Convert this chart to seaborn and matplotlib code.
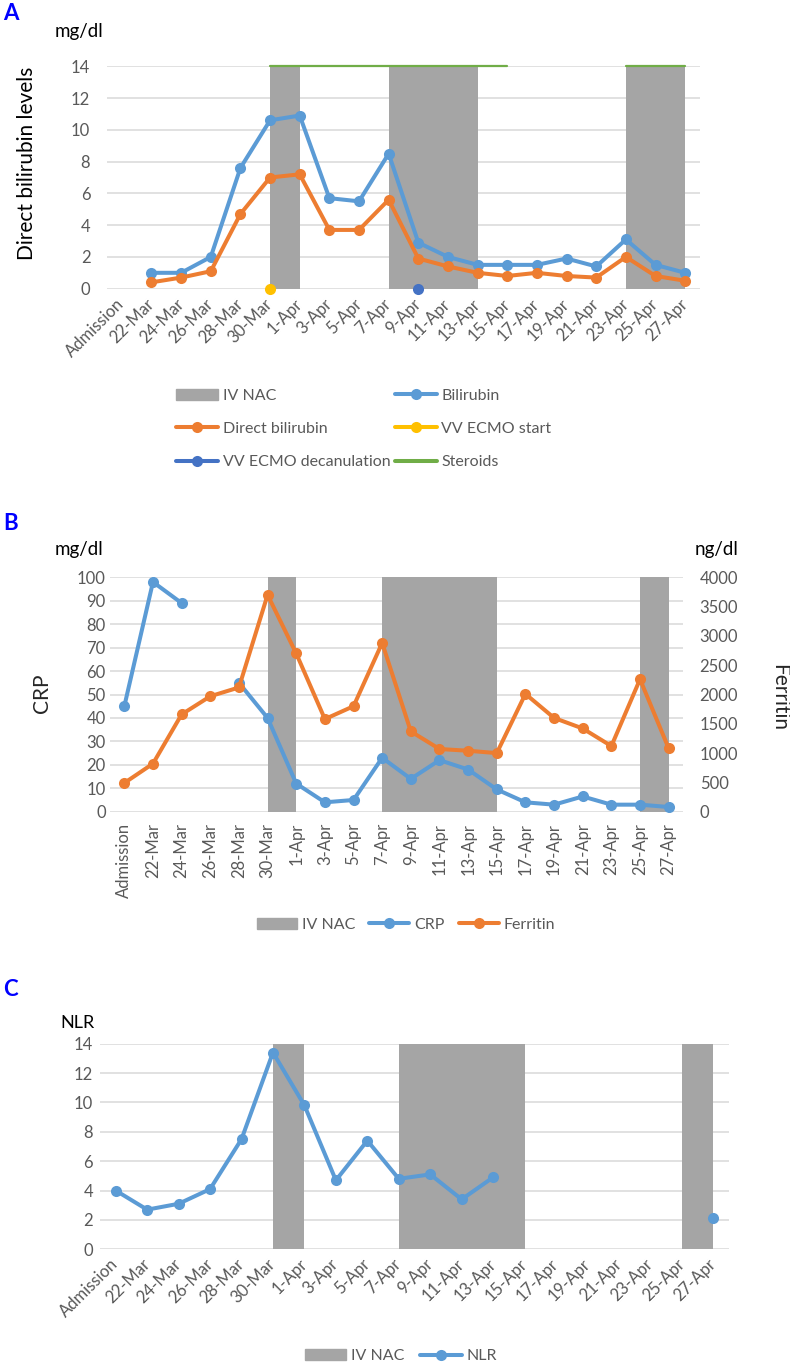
"""Bilirubin, CRP/ferritin and NLR time courses with IV NAC periods."""

import matplotlib
matplotlib.use("Agg")
import matplotlib.pyplot as plt
from matplotlib.lines import Line2D
from matplotlib.patches import Patch
import numpy as np
import pandas as pd
import seaborn as sns

nan = np.nan

dates = ["Admission", "22-Mar", "24-Mar", "26-Mar", "28-Mar", "30-Mar", "1-Apr",
         "3-Apr", "5-Apr", "7-Apr", "9-Apr", "11-Apr", "13-Apr", "15-Apr",
         "17-Apr", "19-Apr", "21-Apr", "23-Apr", "25-Apr", "27-Apr"]

# panel A (mg/dl)
bilirubin = [nan, 1.0, 1.0, 2.0, 7.6, 10.6, 10.9, 5.7, 5.5, 8.5, 2.9, 2.0, 1.5,
             1.5, 1.5, 1.9, 1.4, 3.1, 1.5, 1.0]
direct_bilirubin = [nan, 0.4, 0.7, 1.1, 4.7, 7.0, 7.2, 3.7, 3.7, 5.6, 1.9, 1.4,
                    1.0, 0.8, 1.0, 0.8, 0.7, 2.0, 0.8, 0.5]
steroids = [nan] * 5 + [14] * 9 + [nan] * 3 + [14] * 3
ecmo_start = {"30-Mar": 0}
ecmo_decannulation = {"9-Apr": 0}
nac_a = [("30-Mar", "1-Apr"), ("7-Apr", "13-Apr"), ("23-Apr", "27-Apr")]

# panel B
crp = [45, 98, 89, nan, 55, 40, 12, 4, 5, 23, 14, 22, 18, 9.5, 4, 3, 6.5, 3, 3, 2]
ferritin = [490, 820, 1660, 1970, 2120, 3700, 2700, 1580, 1800, 2880, 1370, 1070,
            1040, 1000, 2010, 1600, 1420, 1120, 2260, 1080]

# panel C
nlr = [4.0, 2.7, 3.1, 4.1, 7.5, 13.4, 9.8, 4.7, 7.4, 4.8, 5.1, 3.4, 4.9,
       nan, nan, nan, nan, nan, nan, 2.1]
nac_bc = [("30-Mar", "1-Apr"), ("7-Apr", "15-Apr"), ("25-Apr", "27-Apr")]

BLUE = "#5B9BD5"
ORANGE = "#ED7D31"
GRAY = "#A5A5A5"
YELLOW = "#FFC000"
DARKBLUE = "#4472C4"
GREEN = "#70AD47"
GRID = "#D9D9D9"
TICK = "#595959"
TICKSIZE = 12

sns.set_theme(style="white")
plt.rcParams["font.family"] = ["Lato", "DejaVu Sans"]

W, H = 790, 1364


def fx(px):
    return px / W


def fy(py):
    return 1 - py / H


def series(ax, values, color, lw=2.9, ms=8, marker="o", clip=True):
    df = pd.DataFrame({"x": np.arange(len(values)), "y": values})
    df["seg"] = df["y"].isna().cumsum()
    df = df.dropna()
    sns.lineplot(data=df, x="x", y="y", units="seg", estimator=None, color=color,
                 linewidth=lw, marker=marker, markersize=ms, markeredgewidth=0,
                 legend=False, ax=ax, clip_on=clip, zorder=3)


def style_axes(ax, ymax, ystep, rot, ypad, xpad):
    ax.set_xlim(-0.5, len(dates) - 0.5)
    ax.set_ylim(0, ymax)
    ax.set_yticks(np.arange(0, ymax + ystep / 2, ystep))
    ax.set_xticks(np.arange(len(dates)))
    if rot == 90:
        ax.set_xticklabels(dates, rotation=90, ha="center", va="top")
    else:
        ax.set_xticklabels(dates, rotation=45, ha="right", va="center",
                           rotation_mode="anchor")
    ax.tick_params(axis="both", length=0, labelsize=TICKSIZE, labelcolor=TICK)
    ax.tick_params(axis="y", pad=ypad)
    ax.tick_params(axis="x", pad=xpad)
    ax.yaxis.grid(True, color=GRID, linewidth=1.1)
    ax.xaxis.grid(False)
    ax.set_axisbelow(True)
    for s in ax.spines.values():
        s.set_visible(False)
    ax.set_xlabel("")
    ax.set_ylabel("")


def nac(ax, spans):
    for start, end in spans:
        ax.axvspan(dates.index(start), dates.index(end), color=GRAY, lw=0, zorder=1)


fig = plt.figure(figsize=(W / 100, H / 100), dpi=100)

# ---- A
ax = fig.add_axes([fx(107), fy(288.7), fx(593), 222.4 / H])
nac(ax, nac_a)
series(ax, bilirubin, BLUE)
series(ax, direct_bilirubin, ORANGE)
series(ax, steroids, GREEN, lw=1.6, marker=None, clip=False)
ax.plot([dates.index(d) for d in ecmo_start], list(ecmo_start.values()), "o",
        color=YELLOW, ms=8, mew=0, clip_on=False, zorder=4)
ax.plot([dates.index(d) for d in ecmo_decannulation], list(ecmo_decannulation.values()),
        "o", color=DARKBLUE, ms=8, mew=0, clip_on=False, zorder=4)
style_axes(ax, 14, 2, 45, 12, 9)

fig.text(fx(3), fy(13), "A", color="blue", fontsize=16, fontweight="bold", va="center")
fig.text(fx(55), fy(32), "mg/dl", fontsize=13.5, va="center", color="black")
fig.text(fx(27), fy(163), "Direct bilirubin levels", fontsize=15, rotation=90,
         ha="center", va="center", color="black")

line_kw = dict(linewidth=2.9, marker="o", markersize=8, markeredgewidth=0)
handles = [Patch(color=GRAY),
           Line2D([], [], color=ORANGE, **line_kw),
           Line2D([], [], color=DARKBLUE, **line_kw),
           Line2D([], [], color=BLUE, **line_kw),
           Line2D([], [], color=YELLOW, **line_kw),
           Line2D([], [], color=GREEN, linewidth=2.9)]
labels = ["IV NAC", "Direct bilirubin", "VV ECMO decanulation",
          "Bilirubin", "VV ECMO start", "Steroids"]
leg = fig.legend(handles, labels, loc="center", bbox_to_anchor=(fx(364), fy(429)),
                 ncol=2, frameon=False, fontsize=11.5, handlelength=2.6,
                 handletextpad=0.3, columnspacing=0.3, labelspacing=1.2, numpoints=1)
for t in leg.get_texts():
    t.set_color(TICK)

# ---- B
ax = fig.add_axes([fx(110), fy(811.7), fx(573), 234.4 / H])
nac(ax, nac_bc)
series(ax, crp, BLUE)
style_axes(ax, 100, 10, 90, 3, 8)
ax2 = ax.twinx()
series(ax2, ferritin, ORANGE)
ax2.set_ylim(0, 4000)
ax2.set_yticks(np.arange(0, 4001, 500))
ax2.tick_params(axis="y", length=0, labelsize=TICKSIZE, labelcolor=TICK, pad=12)
ax2.grid(False)
for s in ax2.spines.values():
    s.set_visible(False)
ax2.set_ylabel("")

fig.text(fx(3), fy(523), "B", color="blue", fontsize=16, fontweight="bold", va="center")
fig.text(fx(55), fy(550), "mg/dl", fontsize=13.5, va="center", color="black")
fig.text(fx(42), fy(693), "CRP", fontsize=15, rotation=90, ha="center", va="center")
fig.text(fx(695), fy(550), "ng/dl", fontsize=13.5, va="center", color="black")
fig.text(fx(779), fy(697), "Ferritin", fontsize=15, rotation=270, ha="center",
         va="center")

handles = [Patch(color=GRAY), Line2D([], [], color=BLUE, **line_kw),
           Line2D([], [], color=ORANGE, **line_kw)]
leg = fig.legend(handles, ["IV NAC", "CRP", "Ferritin"], loc="center",
                 bbox_to_anchor=(fx(406), fy(925)), ncol=3, frameon=False,
                 fontsize=11.5, handlelength=2.5, handletextpad=0.3,
                 columnspacing=0.9, numpoints=1)
for t in leg.get_texts():
    t.set_color(TICK)

# ---- C
ax = fig.add_axes([fx(100), fy(1249.3), fx(629), 205.6 / H])
nac(ax, nac_bc)
series(ax, nlr, BLUE)
style_axes(ax, 14, 2, 45, 5, 9)

fig.text(fx(3), fy(990), "C", color="blue", fontsize=16, fontweight="bold", va="center")
fig.text(fx(60), fy(1023), "NLR", fontsize=13, va="center", color="black")

handles = [Patch(color=GRAY), Line2D([], [], color=BLUE, **line_kw)]
leg = fig.legend(handles, ["IV NAC", "NLR"], loc="center",
                 bbox_to_anchor=(fx(401), fy(1356)), ncol=2, frameon=False,
                 fontsize=11.5, handlelength=2.6, handletextpad=0.3,
                 columnspacing=1.0, numpoints=1)
for t in leg.get_texts():
    t.set_color(TICK)

fig.savefig("out.png", dpi=100)
